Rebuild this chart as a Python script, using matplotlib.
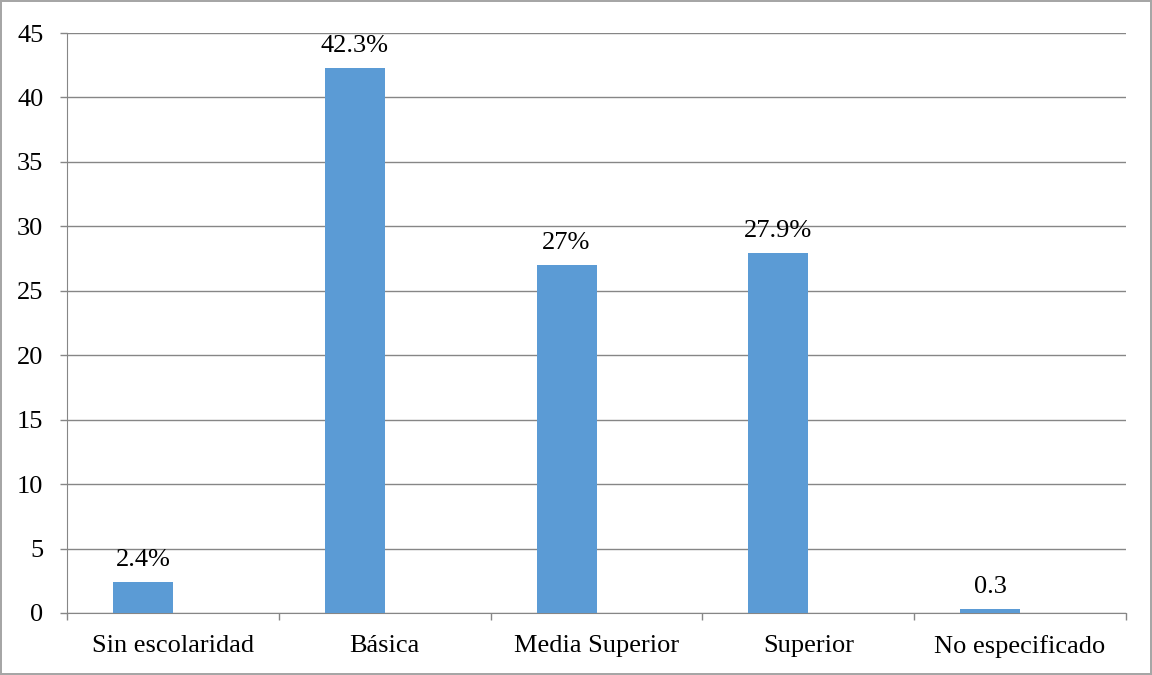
import matplotlib
matplotlib.use("Agg")
import matplotlib.pyplot as plt
import numpy as np

categories = ["Sin escolaridad", "Básica", "Media Superior", "Superior", "No especificado"]
values = [2.4, 42.3, 27.0, 27.9, 0.3]
value_labels = ["2.4%", "42.3%", "27%", "27.9%", "0.3"]
y_ticks = [0, 5, 10, 15, 20, 25, 30, 35, 40, 45]

plt.rcParams["font.family"] = ["Liberation Serif", "DejaVu Serif"]
FS = 19

fig = plt.figure(figsize=(11.52, 6.75), dpi=100)
fig.patch.set_edgecolor("#A6A6A6")
fig.patch.set_linewidth(1.5)
ax = fig.add_axes([0.0582, 0.0919, 0.9192, 0.8592])

idx = np.arange(len(categories))
bar_w = 0.283
bar_x = idx - bar_w / 2
bars = ax.bar(bar_x, values, width=bar_w, color="#5B9BD5", zorder=3)

for x, v, lab in zip(bar_x, values, value_labels):
    ax.annotate(lab, (x, v), xytext=(0, 8), textcoords="offset points",
                ha="center", va="bottom", fontsize=FS, color="#000000")

ax.set_xlim(-0.5, len(categories) - 0.5)
ax.set_ylim(0, 45)
ax.set_yticks(y_ticks)
ax.set_yticklabels([str(t) for t in y_ticks], fontsize=FS)
ax.set_xticks(idx)
ax.set_xticklabels(categories, fontsize=FS)
ax.set_xticks(np.arange(-0.5, len(categories)), minor=True)
ax.tick_params(axis="x", which="major", length=0, pad=16)
ax.tick_params(axis="x", which="minor", length=5, color="#868686", width=1)
ax.tick_params(axis="y", length=5, color="#868686", width=1, pad=12)

ax.grid(axis="y", color="#868686", linewidth=1, zorder=0)
for side in ["top", "right"]:
    ax.spines[side].set_visible(False)
ax.spines["left"].set_color("#868686")
ax.spines["bottom"].set_color("#868686")

fig.savefig("out.png", dpi=100, edgecolor=fig.get_edgecolor())
